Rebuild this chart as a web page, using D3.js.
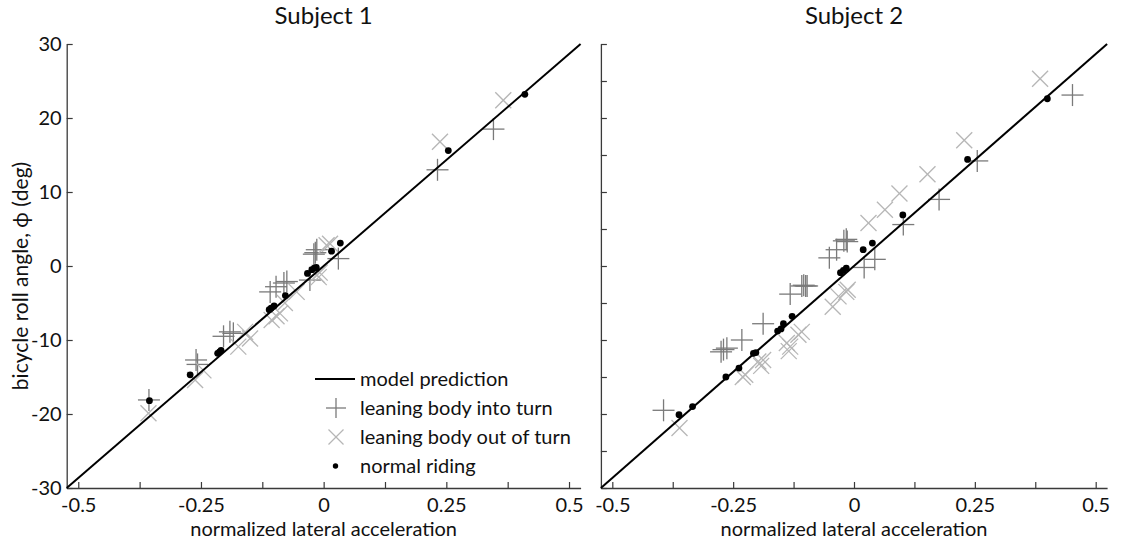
<!DOCTYPE html>
<html>
<head>
<meta charset="utf-8">
<script src="https://cdn.jsdelivr.net/npm/d3@7"></script>
<style>
  html, body { margin: 0; padding: 0; background: #fff; }
  svg { display: block; font-family: Lato, "Open Sans", sans-serif; }
</style>
</head>
<body>
<svg id="chart" width="1128" height="542"></svg>
<script>
// Normalized lateral acceleration vs. bicycle roll angle (deg), two subjects.
const subjects = ["Subject 1", "Subject 2"];

// Model prediction: straight line through the full axis range.
const modelLine = [[-0.5236, -30], [0.5236, 30]];

// Subject 1
const s1Into = [[-0.356,-18.1],[-0.260,-12.7],[-0.257,-13.3],[-0.204,-9.5],[-0.191,-8.9],[-0.184,-9.1],
  [-0.109,-3.5],[-0.097,-2.8],[-0.081,-2.3],[-0.075,-2.1],[-0.028,-1.9],[-0.020,1.6],[-0.017,1.8],
  [-0.014,2.2],[0.030,1.0],[0.232,13.0],[0.346,18.5]];
const s1Out = [[-0.357,-19.9],[-0.262,-15.4],[-0.245,-14.1],[-0.174,-10.9],[-0.150,-9.8],[-0.160,-8.9],
  [-0.106,-7.3],[-0.096,-6.8],[-0.089,-6.4],[-0.079,-5.0],[-0.055,-3.5],[-0.014,-1.2],[-0.010,-1.5],
  [-0.008,-0.9],[0.006,2.8],[0.013,3.0],[0.237,16.8],[0.366,22.4]];
const s1Normal = [[-0.355,-18.2],[-0.272,-14.7],[-0.216,-11.8],[-0.209,-11.4],[-0.212,-11.6],[-0.111,-5.9],
  [-0.107,-5.7],[-0.101,-5.4],[-0.078,-4.0],[-0.033,-1.0],[-0.024,-0.5],[-0.019,-0.3],[-0.015,-0.2],
  [0.016,2.0],[0.034,3.1],[0.254,15.6],[0.410,23.2]];

// Subject 2
const s2Into = [[-0.394,-19.5],[-0.275,-11.6],[-0.270,-11.3],[-0.263,-11.1],[-0.232,-10.0],[-0.188,-7.8],
  [-0.132,-3.8],[-0.108,-2.7],[-0.104,-2.6],[-0.100,-2.7],[-0.097,-2.7],[-0.051,1.1],[-0.036,2.2],
  [-0.021,3.4],[-0.016,3.6],[-0.014,3.3],[0.021,-0.2],[0.043,0.9],[0.102,5.6],[0.176,9.0],[0.255,14.2],
  [0.452,23.1]];
const s2Out = [[-0.361,-21.9],[-0.230,-15.0],[-0.225,-14.7],[-0.198,-12.9],[-0.188,-12.7],[-0.192,-13.5],
  [-0.139,-10.4],[-0.132,-10.9],[-0.135,-11.5],[-0.115,-9.3],[-0.108,-8.9],[-0.044,-5.5],[-0.032,-4.1],
  [-0.016,-3.5],[-0.013,-3.2],[0.030,5.8],[0.064,7.6],[0.094,9.8],[0.152,12.4],[0.228,17.0],[0.385,25.3]];
const s2Normal = [[-0.362,-20.1],[-0.334,-19.0],[-0.265,-15.0],[-0.238,-13.8],[-0.208,-11.8],[-0.203,-11.7],
  [-0.158,-8.8],[-0.151,-8.5],[-0.146,-7.8],[-0.128,-6.8],[-0.028,-0.9],[-0.022,-0.6],[-0.016,-0.3],
  [0.019,2.2],[0.038,3.1],[0.101,6.9],[0.235,14.4],[0.400,22.6]];

// Axis ticks
const xTickValues = [-0.5, -0.375, -0.25, -0.125, 0, 0.125, 0.25, 0.375, 0.5];
const xTickLabels = { "-0.5": "-0.5", "-0.25": "-0.25", "0": "0", "0.25": "0.25", "0.5": "0.5" };
const yTickValuesLeft = [-30, -20, -10, 0, 10, 20, 30];
const yTickValuesRight = [-30, -25, -20, -15, -10, -5, 0, 5, 10, 15, 20, 25, 30];

const legendLabels = ["model prediction", "leaning body into turn", "leaning body out of turn", "normal riding"];

const xDomain = [-0.5236, 0.5236];
const yDomain = [-30, 30];

const panels = [
  { title: subjects[0], left: 66.7, right: 580.6, into: s1Into, out: s1Out, normal: s1Normal,
    yTicks: yTickValuesLeft, yLabels: true, legend: true },
  { title: subjects[1], left: 600.9, right: 1107.1, into: s2Into, out: s2Out, normal: s2Normal,
    yTicks: yTickValuesRight, yLabels: false, legend: false }
];
const plotTop = 44, plotBottom = 488;

const axisColor = "#3a3a3a";
const textColor = "#111";
const intoColor = "#7a7a7a";
const outColor = "#b6b6b6";
const fontSize = 20;

const svg = d3.select("#chart");

function plus(g, cx, cy, h) {
  g.append("line").attr("x1", cx - h).attr("x2", cx + h).attr("y1", cy).attr("y2", cy);
  g.append("line").attr("x1", cx).attr("x2", cx).attr("y1", cy - h).attr("y2", cy + h);
}
function cross(g, cx, cy, h) {
  g.append("line").attr("x1", cx - h).attr("x2", cx + h).attr("y1", cy - h).attr("y2", cy + h);
  g.append("line").attr("x1", cx - h).attr("x2", cx + h).attr("y1", cy + h).attr("y2", cy - h);
}

panels.forEach(p => {
  const x = d3.scaleLinear().domain(xDomain).range([p.left, p.right]);
  const y = d3.scaleLinear().domain(yDomain).range([plotBottom, plotTop]);
  const g = svg.append("g");

  // title
  g.append("text")
    .attr("x", (p.left + p.right) / 2).attr("y", 24)
    .attr("text-anchor", "middle").attr("fill", textColor)
    .style("font-size", "24px").text(p.title);

  // x axis (ticks point inward)
  const xAxis = d3.axisBottom(x).tickValues(xTickValues).tickSizeInner(-6).tickSizeOuter(0)
    .tickFormat(d => xTickLabels[String(d)] || "");
  const gx = g.append("g").attr("transform", `translate(0,${plotBottom})`).call(xAxis);
  gx.select(".domain").attr("stroke", axisColor).attr("stroke-width", 1.3);
  gx.selectAll(".tick line").attr("stroke", axisColor).attr("stroke-width", 1.2);
  gx.selectAll(".tick text").attr("fill", textColor).attr("y", 10).attr("dy", "0.71em")
    .style("font-size", fontSize + "px").style("font-family", "Lato, sans-serif");

  // y axis (plain hyphen for negative labels)
  const yAxis = d3.axisLeft(y).tickValues(p.yTicks).tickSizeInner(-6).tickSizeOuter(0)
    .tickFormat(p.yLabels ? (d => String(d)) : () => "");
  const gy = g.append("g").attr("transform", `translate(${p.left},0)`).call(yAxis);
  gy.select(".domain").attr("stroke", axisColor).attr("stroke-width", 1.3);
  gy.selectAll(".tick line").attr("stroke", axisColor).attr("stroke-width", 1.2);
  gy.selectAll(".tick text").attr("fill", textColor).attr("x", -5)
    .style("font-size", fontSize + "px").style("font-family", "Lato, sans-serif");

  // x axis label
  g.append("text")
    .attr("x", (p.left + p.right) / 2).attr("y", 536)
    .attr("text-anchor", "middle").attr("fill", textColor)
    .style("font-size", fontSize + "px").text("normalized lateral acceleration");

  // markers: into turn
  const gi = g.append("g").attr("stroke", intoColor).attr("stroke-width", 1.3);
  p.into.forEach(d => plus(gi, x(d[0]), y(d[1]), 11));
  // markers: out of turn
  const go = g.append("g").attr("stroke", outColor).attr("stroke-width", 1.3);
  p.out.forEach(d => cross(go, x(d[0]), y(d[1]), 8));

  // model prediction line
  g.append("path").datum(modelLine)
    .attr("d", d3.line().x(d => x(d[0])).y(d => y(d[1])))
    .attr("fill", "none").attr("stroke", "#000").attr("stroke-width", 2);

  // normal riding
  g.append("g").selectAll("circle").data(p.normal).join("circle")
    .attr("cx", d => x(d[0])).attr("cy", d => y(d[1])).attr("r", 3.4).attr("fill", "#000");

  if (p.legend) {
    const lx = 315, lw = 40, rows = [379, 408, 437, 466];
    const tx = 360;
    const gl = g.append("g");
    gl.append("line").attr("x1", lx).attr("x2", lx + lw).attr("y1", rows[0]).attr("y2", rows[0])
      .attr("stroke", "#000").attr("stroke-width", 2);
    const li = gl.append("g").attr("stroke", intoColor).attr("stroke-width", 1.3);
    plus(li, 336, rows[1], 10);
    const lo = gl.append("g").attr("stroke", outColor).attr("stroke-width", 1.3);
    cross(lo, 336, rows[2], 7.5);
    gl.append("circle").attr("cx", 335.5).attr("cy", rows[3]).attr("r", 2.7).attr("fill", "#000");
    legendLabels.forEach((t, i) => {
      gl.append("text").attr("x", tx).attr("y", rows[i]).attr("dy", "0.35em")
        .attr("fill", textColor).style("font-size", fontSize + "px").text(t);
    });
  }
});

// y axis label
svg.append("text")
  .attr("transform", "translate(28,276) rotate(-90)")
  .attr("text-anchor", "middle").attr("fill", textColor)
  .style("font-size", "21px").text("bicycle roll angle, \u03D5 (deg)");
</script>
</body>
</html>
